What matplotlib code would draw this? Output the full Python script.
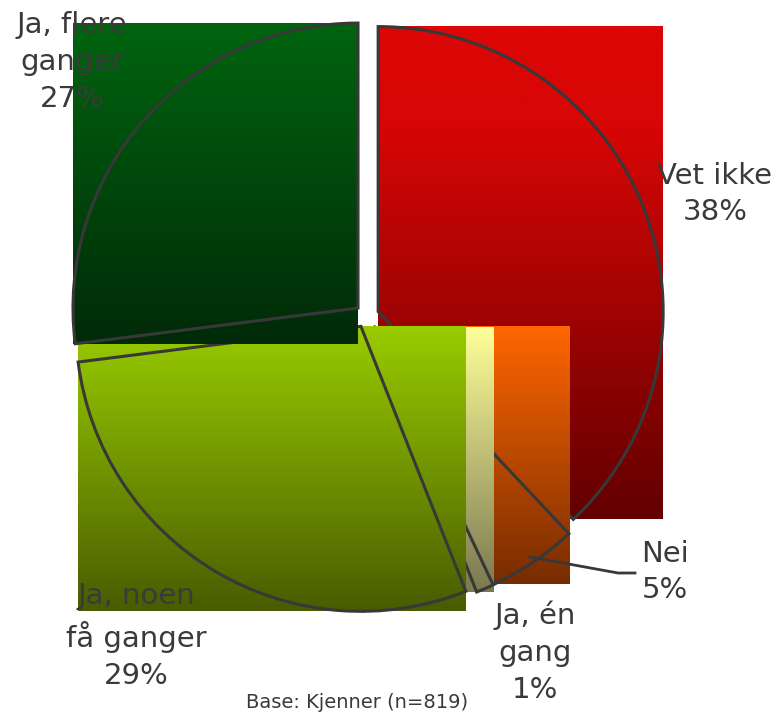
import matplotlib
matplotlib.use("Agg")
import matplotlib.pyplot as plt
import numpy as np
from matplotlib.colors import to_rgb

# answer shares, in slice order (clockwise from 12 o'clock)
labels = ["Vet ikke", "Nei", "Ja, én\ngang", "Ja, noen\nfå ganger", "Ja, flere\nganger"]
values = [38, 5, 1, 29, 27]
# gradient stops per slice: (position, colour), top to bottom
stops = [
    [(0.0, "#dc0606"), (0.2, "#d80606"), (1.0, "#620000")],
    [(0.0, "#ff6600"), (1.0, "#772c00")],
    [(0.0, "#ffff99"), (1.0, "#7a7850")],
    [(0.0, "#99cc00"), (1.0, "#485c00")],
    [(0.0, "#00640f"), (1.0, "#002a08")],
]

W, H = 778, 713
fig = plt.figure(figsize=(W / 100, H / 100), dpi=100)
ax = fig.add_axes([0, 0, 1, 1])

# pie in pixel-like units, y pointing up
wedges, _ = ax.pie(values, startangle=90, counterclock=False,
                   explode=[12] * len(values), radius=285, center=(367, H - 316),
                   wedgeprops=dict(facecolor="none", edgecolor="#383838", linewidth=2.2))


def gradient(st, n=256):
    t = np.linspace(0, 1, n)
    pos = [p for p, _ in st]
    rgb = np.array([to_rgb(c) for _, c in st])
    cols = np.stack([np.interp(t, pos, rgb[:, k]) for k in range(3)], axis=-1)
    return cols[:, None, :]


# each slice gets a vertical gradient over its bounding box, outline on top
for i, w in enumerate(wedges):
    ext = w.get_path().transformed(w.get_patch_transform()).get_extents()
    ax.imshow(gradient(stops[i]), extent=(ext.x0, ext.x1, ext.y0, ext.y1), origin="upper",
              aspect="auto", interpolation="bilinear", zorder=2 * i + 1)
    w.set_zorder(2 * i + 2)

txt = dict(fontsize=21, color="#3a3a3a", ha="center", va="center",
           linespacing=1.4, zorder=20)
label_pos = [(715, 194), (665, 572), (535, 652), (136, 636), (72, 62)]
for lab, v, (x, y) in zip(labels, values, label_pos):
    ax.text(x, H - y, f"{lab}\n{v}%", **txt)

# leader line for the small "Nei" slice
ax.plot([635, 618, 530], [H - 573, H - 573, H - 557], color="#383838", lw=2.0, zorder=20)

ax.text(357, H - 703, "Base: Kjenner (n=819)", fontsize=14, color="#3a3a3a",
        ha="center", va="center", zorder=20)

ax.set_xlim(0, W)
ax.set_ylim(0, H)
ax.axis("off")
fig.savefig("out.png", dpi=100)
